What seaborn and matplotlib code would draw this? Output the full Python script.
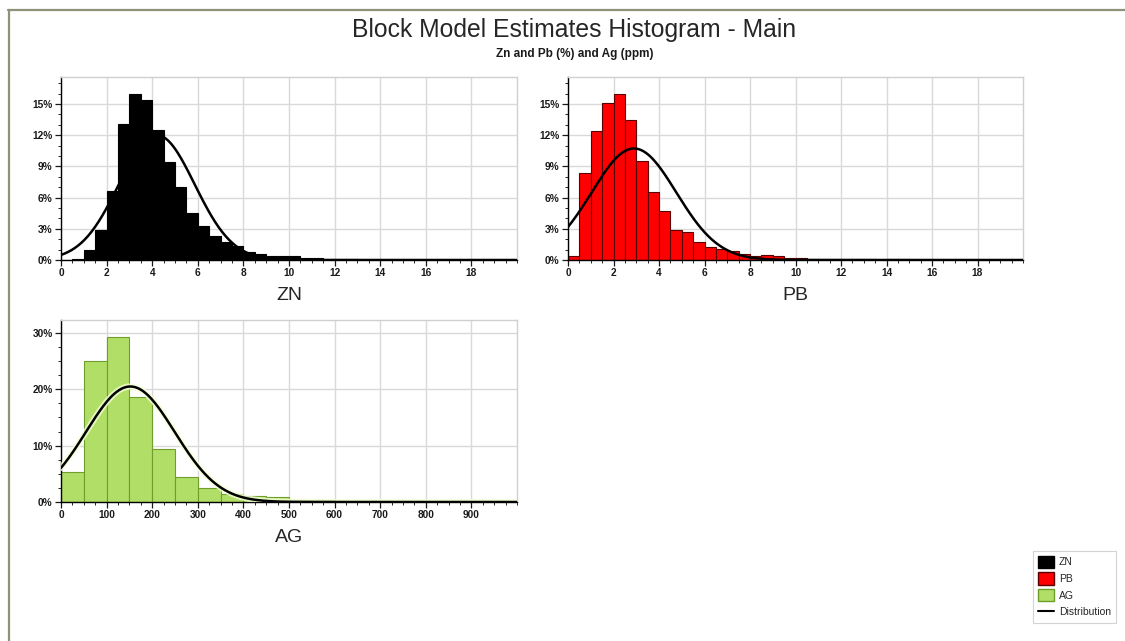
import numpy as np
import pandas as pd
import matplotlib
matplotlib.use("Agg")
import matplotlib.pyplot as plt
import seaborn as sns
from matplotlib.ticker import MultipleLocator, FuncFormatter
from matplotlib.patches import Patch
from matplotlib.lines import Line2D
import matplotlib.patheffects as pe

# ---------------- data ----------------
title = "Block Model Estimates Histogram - Main"
subtitle = "Zn and Pb (%) and Ag (ppm)"

zn_bin_start = [0.5, 1.0, 1.5, 2.0, 2.5, 3.0, 3.5, 4.0, 4.5, 5.0, 5.5, 6.0, 6.5,
                7.0, 7.5, 8.0, 8.5, 9.0, 9.5, 10.0, 10.5, 11.0, 11.5, 12.0, 12.5]
zn_pct = [0.1, 1.0, 2.85, 6.6, 13.1, 16.0, 15.4, 12.5, 9.45, 7.0, 4.55, 3.3, 2.35,
          1.75, 1.3, 0.8, 0.6, 0.4, 0.4, 0.35, 0.15, 0.15, 0.1, 0.07, 0.05]
zn_bin_width = 0.5
zn_mean, zn_sd = 4.2, 1.66

pb_bin_start = [0.0, 0.5, 1.0, 1.5, 2.0, 2.5, 3.0, 3.5, 4.0, 4.5, 5.0, 5.5, 6.0, 6.5,
                7.0, 7.5, 8.0, 8.5, 9.0, 9.5, 10.0, 10.5, 11.0, 11.5, 12.0, 12.5,
                13.0, 13.5, 14.0, 14.5]
pb_pct = [0.4, 8.4, 12.4, 15.1, 16.0, 13.5, 9.55, 6.5, 4.75, 2.85, 2.65, 1.75, 1.25, 1.1,
          0.85, 0.6, 0.4, 0.5, 0.35, 0.15, 0.15, 0.07, 0.05, 0.05, 0.05, 0.05,
          0.05, 0.0, 0.05, 0.05]
pb_bin_width = 0.5
pb_mean, pb_sd = 2.9, 1.86

ag_bin_start = [0, 50, 100, 150, 200, 250, 300, 350, 400, 450, 500, 550, 600, 650]
ag_pct = [5.4, 25.0, 29.3, 18.7, 9.4, 4.5, 2.5, 1.5, 1.05, 0.9, 0.35, 0.3, 0.15, 0.15]
ag_bin_width = 50
ag_mean, ag_sd = 152, 97.3

# ---------------- style ----------------
sns.set_style("white")
plt.rcParams['font.family'] = ['Liberation Sans', 'DejaVu Sans']

fig = plt.figure(figsize=(11.25, 6.41), dpi=100)
fig.patch.set_facecolor("white")

W, H = 1125, 641
def ax_rect(l, r, t, b):
    return [l / W, 1 - b / H, (r - l) / W, (b - t) / H]

ax_zn = fig.add_axes(ax_rect(61, 517, 77, 260))
ax_pb = fig.add_axes(ax_rect(568, 1023, 77, 260))
ax_ag = fig.add_axes(ax_rect(61, 517, 320, 502))

pct_fmt = FuncFormatter(lambda v, p: f"{v:.0f}%")


def draw(ax, starts, pct, width, mean, sd, color, edge, label, xmax, xmajor, xminor,
         ymax, ymajor, yminor, halo=False):
    starts = np.asarray(starts, dtype=float)
    edges = [float(v) for v in np.append(starts, starts[-1] + width)]
    centers = starts + width / 2
    df = pd.DataFrame({"x": centers, "w": np.asarray(pct, dtype=float)})
    sns.histplot(data=df, x="x", weights="w", bins=edges, ax=ax, color=color,
                 edgecolor=edge, linewidth=0.8, alpha=1, zorder=2)
    xs = np.linspace(0, xmax, 400)
    ys = 100 * width * np.exp(-0.5 * ((xs - mean) / sd) ** 2) / (sd * np.sqrt(2 * np.pi))
    line, = ax.plot(xs, ys, color="black", linewidth=1.8, zorder=3)
    if halo:
        line.set_path_effects([pe.withStroke(linewidth=4.5, foreground="#f4ffd8", alpha=0.8)])
    ax.set_xlim(0, xmax)
    ax.set_ylim(0, ymax)
    ax.set_xticks(np.arange(0, xmax - 1e-9, xmajor))
    ax.xaxis.set_minor_locator(MultipleLocator(xminor))
    ax.yaxis.set_major_locator(MultipleLocator(ymajor))
    ax.yaxis.set_minor_locator(MultipleLocator(yminor))
    ax.yaxis.set_major_formatter(pct_fmt)
    ax.grid(True, which="major", color="#d9d9d9", linewidth=1.0, zorder=0)
    ax.set_axisbelow(True)
    for s in ["top", "right"]:
        ax.spines[s].set_color("#d0d0d0")
        ax.spines[s].set_linewidth(1.0)
    for s in ["left", "bottom"]:
        ax.spines[s].set_color("black")
        ax.spines[s].set_linewidth(1.0)
    ax.tick_params(axis="both", which="major", direction="out", length=4, width=0.9,
                   labelsize=7.3, colors="#1a1a1a", pad=2, bottom=True, left=True)
    ax.tick_params(axis="both", which="minor", direction="out", length=2, width=0.7,
                   bottom=True, left=True)
    for t in ax.get_xticklabels() + ax.get_yticklabels():
        t.set_fontweight("bold")
    ax.set_xlabel(label, fontsize=14, labelpad=6)
    ax.set_ylabel("")


draw(ax_zn, zn_bin_start, zn_pct, zn_bin_width, zn_mean, zn_sd, "black", "black", "ZN",
     20, 2, 0.5, 17.6, 3, 1)
draw(ax_pb, pb_bin_start, pb_pct, pb_bin_width, pb_mean, pb_sd, "#ff0000", "#5a0000", "PB",
     20, 2, 0.5, 17.6, 3, 1)
draw(ax_ag, ag_bin_start, ag_pct, ag_bin_width, ag_mean, ag_sd, "#b0de66", "#6f9e2c", "AG",
     1000, 100, 25, 32.3, 10, 2.5, halo=True)

fig.text(574 / W, 1 - 30 / H, title, ha="center", va="center", fontsize=17.8)
fig.text(575 / W, 1 - 54 / H, subtitle, ha="center", va="center", fontsize=8.5,
         fontweight="bold", color="#1a1a1a")

handles = [Patch(facecolor="black", edgecolor="black", label="ZN"),
           Patch(facecolor="#ff0000", edgecolor="#5a0000", label="PB"),
           Patch(facecolor="#b0de66", edgecolor="#6f9e2c", label="AG"),
           Line2D([0], [0], color="black", linewidth=1.5, label="Distribution")]
leg = fig.legend(handles=handles, loc="lower right", bbox_to_anchor=(1121 / W, 1 - 628 / H),
                 fontsize=7.5, frameon=True, fancybox=False, borderpad=0.45,
                 handlelength=1.6, handleheight=1.45, handletextpad=0.45, labelspacing=0.42,
                 edgecolor="#c8c8c8")
leg.get_frame().set_linewidth(0.8)

# figure frame: only left and top edges are visible in the reference
fig.add_artist(Line2D([8.5 / W, 8.5 / W], [0, 1 - 9.5 / H], transform=fig.transFigure,
                      color="#8e9278", linewidth=1.6))
fig.add_artist(Line2D([7.7 / W, 1], [1 - 9.5 / H, 1 - 9.5 / H], transform=fig.transFigure,
                      color="#8e9278", linewidth=1.6))

fig.savefig("out.png", dpi=100)
